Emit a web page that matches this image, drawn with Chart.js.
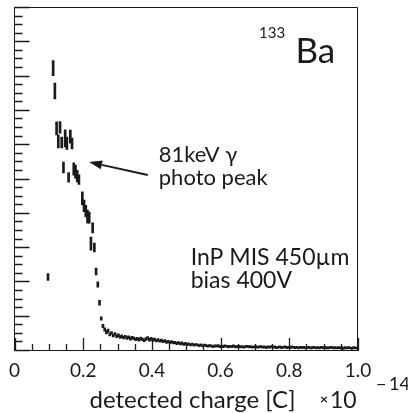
<!DOCTYPE html>
<html>
<head>
<meta charset="utf-8">
<script src="https://cdn.jsdelivr.net/npm/chart.js@4"></script>
<style>
  html, body { margin: 0; padding: 0; background: #fff; }
</style>
</head>
<body>
<canvas id="spectrum" width="408" height="413"></canvas>
<script>
// histogram bins (centres, in units of 1e-14 C), counts and their errors
const binCenters = [
  0.0975, 0.1125, 0.1175, 0.1225, 0.1275, 0.1325, 0.1375, 0.1425, 0.1475, 0.1525,
  0.1575, 0.1625, 0.1675, 0.1725, 0.1775, 0.1825, 0.1875, 0.1975, 0.2025, 0.2075,
  0.2125, 0.2175, 0.2225, 0.2275, 0.2325, 0.2375, 0.2425, 0.2475, 0.2525,
  0.2575, 0.2625, 0.2675, 0.2725, 0.2775, 0.2825, 0.2875, 0.2925, 0.2975, 0.3025,
  0.3075, 0.3125, 0.3175, 0.3225, 0.3275, 0.3325, 0.3375, 0.3425, 0.3475, 0.3525,
  0.3575, 0.3625, 0.3675, 0.3725, 0.3775, 0.3825, 0.3875, 0.3925, 0.3975, 0.4025,
  0.4075, 0.4125, 0.4175, 0.4225, 0.4275, 0.4325, 0.4375, 0.4425, 0.4475, 0.4525,
  0.4575, 0.4625, 0.4675, 0.4725, 0.4775, 0.4825, 0.4875, 0.4925, 0.4975, 0.5025,
  0.5075, 0.5125, 0.5175, 0.5225, 0.5275, 0.5325, 0.5375, 0.5425, 0.5475, 0.5525,
  0.5575, 0.5625, 0.5675, 0.5725, 0.5775, 0.5825, 0.5875, 0.5925, 0.5975, 0.6025,
  0.6075, 0.6125, 0.6175, 0.6225, 0.6275, 0.6325, 0.6375, 0.6425, 0.6475, 0.6525,
  0.6575, 0.6625, 0.6675, 0.6725, 0.6775, 0.6825, 0.6875, 0.6925, 0.6975, 0.7025,
  0.7075, 0.7125, 0.7175, 0.7225, 0.7275, 0.7325, 0.7375, 0.7425, 0.7475, 0.7525,
  0.7575, 0.7625, 0.7675, 0.7725, 0.7775, 0.7825, 0.7875, 0.7925, 0.7975, 0.8025,
  0.8075, 0.8125, 0.8175, 0.8225, 0.8275, 0.8325, 0.8375, 0.8425, 0.8475, 0.8525,
  0.8575, 0.8625, 0.8675, 0.8725, 0.8775, 0.8825, 0.8875, 0.8925, 0.8975, 0.9025,
  0.9075, 0.9125, 0.9175, 0.9225, 0.9275, 0.9325, 0.9375, 0.9425, 0.9475, 0.9525,
  0.9575, 0.9625, 0.9675, 0.9725, 0.9775, 0.9825, 0.9875, 0.9925, 0.9975
];
const counts = [
  2.13, 8.22, 7.55, 6.46, 6.08, 6.49, 6.05, 5.32, 6.17, 6.03,
  5.03, 6.22, 6.02, 5.28, 5.20, 5.07, 4.97, 4.42, 4.20, 4.05,
  3.89, 3.86, 3.10, 3.56, 2.99, 2.29, 1.91, 1.38, 0.92,
  0.70, 0.60, 0.52, 0.56, 0.45, 0.50, 0.42, 0.47, 0.40, 0.43,
  0.38, 0.40, 0.36, 0.39, 0.35, 0.37, 0.33, 0.36, 0.34, 0.31,
  0.33, 0.30, 0.34, 0.31, 0.28, 0.32, 0.35, 0.30, 0.33, 0.29,
  0.31, 0.27, 0.30, 0.26, 0.28, 0.25, 0.27, 0.23, 0.25, 0.22,
  0.24, 0.21, 0.22, 0.19, 0.21, 0.18, 0.20, 0.17, 0.19, 0.16,
  0.18, 0.15, 0.17, 0.14, 0.16, 0.15, 0.13, 0.15, 0.12, 0.14,
  0.13, 0.11, 0.13, 0.12, 0.10, 0.12, 0.11, 0.13, 0.10, 0.11,
  0.09, 0.11, 0.10, 0.08, 0.10, 0.09, 0.11, 0.08, 0.09, 0.10,
  0.08, 0.09, 0.07, 0.09, 0.10, 0.08, 0.09, 0.07, 0.08, 0.09,
  0.07, 0.08, 0.09, 0.07, 0.08, 0.06, 0.08, 0.07, 0.09, 0.07,
  0.08, 0.06, 0.07, 0.08, 0.06, 0.07, 0.08, 0.06, 0.07, 0.06,
  0.08, 0.07, 0.06, 0.07, 0.05, 0.07, 0.06, 0.07, 0.05, 0.06,
  0.07, 0.05, 0.06, 0.07, 0.05, 0.06, 0.05, 0.07, 0.06, 0.05,
  0.06, 0.05, 0.06, 0.07, 0.05, 0.06, 0.05, 0.06, 0.05, 0.06,
  0.04, 0.06, 0.05, 0.06, 0.05, 0.04, 0.06, 0.05, 0.05
];
const countErrors = [
  0.10, 0.22, 0.23, 0.19, 0.19, 0.17, 0.16, 0.16, 0.25, 0.18,
  0.14, 0.19, 0.16, 0.18, 0.19, 0.17, 0.14, 0.19, 0.17, 0.17,
  0.19, 0.16, 0.19, 0.15, 0.13, 0.10, 0.08, 0.07, 0.05,
  0.05, 0.05, 0.05, 0.05, 0.04, 0.04, 0.04, 0.04, 0.04, 0.04,
  0.04, 0.04, 0.04, 0.04, 0.04, 0.04, 0.04, 0.04, 0.04, 0.04,
  0.04, 0.04, 0.04, 0.04, 0.04, 0.04, 0.04, 0.04, 0.04, 0.04,
  0.035, 0.035, 0.035, 0.035, 0.035, 0.035, 0.035, 0.035, 0.035, 0.035,
  0.035, 0.035, 0.035, 0.035, 0.035, 0.035, 0.035, 0.035, 0.035, 0.035,
  0.03, 0.03, 0.03, 0.03, 0.03, 0.03, 0.03, 0.03, 0.03, 0.03,
  0.03, 0.03, 0.03, 0.03, 0.03, 0.03, 0.03, 0.03, 0.03, 0.03,
  0.02, 0.02, 0.02, 0.02, 0.02, 0.02, 0.02, 0.02, 0.02, 0.02,
  0.02, 0.02, 0.02, 0.02, 0.02, 0.02, 0.02, 0.02, 0.02, 0.02,
  0.02, 0.02, 0.02, 0.02, 0.02, 0.02, 0.02, 0.02, 0.02, 0.02,
  0.02, 0.02, 0.02, 0.02, 0.02, 0.02, 0.02, 0.02, 0.02, 0.02,
  0.02, 0.02, 0.02, 0.02, 0.02, 0.02, 0.02, 0.02, 0.02, 0.02,
  0.02, 0.02, 0.02, 0.02, 0.02, 0.02, 0.02, 0.02, 0.02, 0.02,
  0.02, 0.02, 0.02, 0.02, 0.02, 0.02, 0.02, 0.02, 0.02, 0.02,
  0.02, 0.02, 0.02, 0.02, 0.02, 0.02, 0.02, 0.02, 0.02
];
const xTickLabels = ['0', '0.2', '0.4', '0.6', '0.8', '1.0'];

const INK = '#1a1a1a';
const FONT = 'Lato, "Open Sans", sans-serif';

// labels drawn inside the frame, placed in data coordinates
const notes = [
  { text: '133', x: 0.712, y: 9.10, size: 15 },
  { text: 'Ba', x: 0.818, y: 8.37, size: 35 },
  { text: '81keV \u03b3', x: 0.420, y: 5.48, size: 22 },
  { text: 'photo peak', x: 0.420, y: 4.81, size: 22 },
  { text: 'InP MIS 450\u00b5m', x: 0.513, y: 2.48, size: 23 },
  { text: 'bias 400V', x: 0.513, y: 1.81, size: 23 }
];
const arrow = { from: [0.388, 5.10], to: [0.217, 5.48] };

const decorations = {
  id: 'decorations',
  afterDraw(chart) {
    const { ctx, chartArea: a, scales: { x, y } } = chart;
    ctx.save();
    ctx.strokeStyle = INK;
    ctx.lineWidth = 1;

    // top and right edges of the frame
    ctx.beginPath();
    ctx.moveTo(a.left, a.top + 0.5);
    ctx.lineTo(a.right - 0.5, a.top + 0.5);
    ctx.lineTo(a.right - 0.5, a.bottom);
    ctx.stroke();

    // ticks pointing into the frame
    ctx.lineWidth = 1.3;
    ctx.beginPath();
    x.ticks.forEach(t => {
      const px = Math.round(x.getPixelForValue(t.value)) + 0.5;
      const len = Math.round(t.value * 100) % 20 === 0 ? 12 : 6;
      ctx.moveTo(px, a.bottom);
      ctx.lineTo(px, a.bottom - len);
    });
    y.ticks.forEach(t => {
      const py = Math.round(y.getPixelForValue(t.value)) + 0.5;
      const len = Math.abs(t.value - Math.round(t.value)) < 1e-6 ? 15 : 8;
      ctx.moveTo(a.left, py);
      ctx.lineTo(a.left + len, py);
    });
    ctx.stroke();

    // notes
    ctx.fillStyle = INK;
    ctx.textAlign = 'left';
    ctx.textBaseline = 'alphabetic';
    notes.forEach(n => {
      ctx.font = `${n.size}px ${FONT}`;
      ctx.fillText(n.text, x.getPixelForValue(n.x), y.getPixelForValue(n.y));
    });

    // arrow to the photo peak
    const x0 = x.getPixelForValue(arrow.from[0]), y0 = y.getPixelForValue(arrow.from[1]);
    const x1 = x.getPixelForValue(arrow.to[0]), y1 = y.getPixelForValue(arrow.to[1]);
    const ang = Math.atan2(y1 - y0, x1 - x0);
    const hl = 13, hw = 4.5;
    const bx = x1 - hl * Math.cos(ang), by = y1 - hl * Math.sin(ang);
    ctx.lineWidth = 2;
    ctx.beginPath();
    ctx.moveTo(x0, y0);
    ctx.lineTo(bx, by);
    ctx.stroke();
    ctx.beginPath();
    ctx.moveTo(x1, y1);
    ctx.lineTo(bx + hw * Math.sin(ang), by - hw * Math.cos(ang));
    ctx.lineTo(bx - hw * Math.sin(ang), by + hw * Math.cos(ang));
    ctx.closePath();
    ctx.fill();

    // axis title, right-aligned like ROOT, with the exponent
    ctx.font = `24px ${FONT}`;
    ctx.textAlign = 'right';
    ctx.fillText('detected charge [C]', x.getPixelForValue(0.818), a.bottom + 58);
    ctx.textAlign = 'left';
    ctx.font = `bold 14px ${FONT}`;
    ctx.fillText('\u00d7', a.right - 38, a.bottom + 54);
    ctx.font = `23px ${FONT}`;
    ctx.fillText('10', a.right - 28, a.bottom + 58);
    ctx.font = `18px ${FONT}`;
    ctx.fillText('\u2212', a.right + 18, a.bottom + 40);
    ctx.fillText('14', a.right + 31, a.bottom + 40);
    ctx.restore();
  }
};

new Chart(document.getElementById('spectrum'), {
  type: 'bar',
  data: {
    datasets: [{
      label: 'counts',
      data: binCenters.map((c, i) => ({ x: c, y: [counts[i] - countErrors[i], counts[i] + countErrors[i]] })),
      backgroundColor: INK,
      borderWidth: 0,
      barThickness: 2,
      minBarLength: 2
    }]
  },
  options: {
    responsive: false,
    animation: false,
    layout: { padding: { left: 13, top: 7, right: 50, bottom: 0 } },
    plugins: { legend: { display: false }, tooltip: { enabled: false } },
    scales: {
      x: {
        type: 'linear',
        offset: false,
        min: 0,
        max: 1,
        grid: { display: false, drawTicks: false },
        border: { display: true, color: INK, width: 1 },
        ticks: {
          stepSize: 0.05,
          autoSkip: false,
          maxRotation: 0,
          minRotation: 0,
          padding: 9,
          color: INK,
          font: { family: FONT, size: 19 },
          callback: v => {
            const r = Math.round(v * 100);
            return r % 20 === 0 ? xTickLabels[r / 20] : '';
          }
        },
        afterFit: s => { s.height = 63; }
      },
      y: {
        min: 0,
        max: 10,
        grid: { display: false, drawTicks: false },
        border: { display: true, color: INK, width: 1 },
        ticks: { stepSize: 0.25, display: false },
        afterFit: s => { s.width = 0; }
      }
    }
  },
  plugins: [decorations]
});
</script>
</body>
</html>
